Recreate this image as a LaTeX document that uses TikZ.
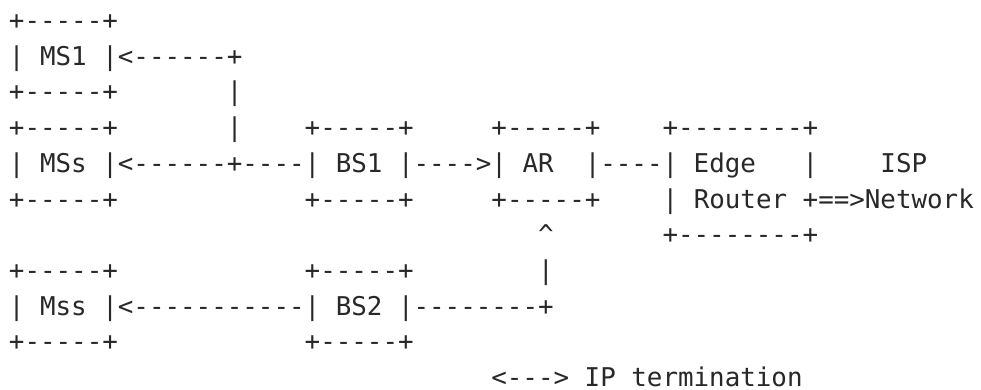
\documentclass[tikz,border=0pt]{standalone}
\usepackage{fontspec}
\newfontfamily\asciifont{DejaVu Sans Mono}
\definecolor{ink}{RGB}{40,40,40}
\begin{document}
\begin{tikzpicture}[x=1pt,y=1pt,
  row/.style={anchor=base west,inner sep=0pt,outer sep=0pt,text=ink,
    font=\asciifont\fontsize{25.85}{30}\selectfont}]
\useasboundingbox[fill=white] (0,0) rectangle (981,-389);
% column pitch 15.56pt, first column at 9pt; row pitch 35.74pt
\node[row] (r0)  at (9,-29.3)   {+-----+};
\node[row] (r1)  at (9,-65.04)  {|~MS1~|<------+};
\node[row] (r2)  at (9,-100.78) {+-----+~~~~~~~|};
\node[row] (r3)  at (9,-136.52) {+-----+~~~~~~~|~~~~+-----+~~~~~+-----+~~~~+--------+};
\node[row] (r4)  at (9,-172.26) {|~MSs~|<------+----|~BS1~|---->|~AR~~|----|~Edge~~~|~~~~ISP};
\node[row] (r5)  at (9,-208.00) {+-----+~~~~~~~~~~~~+-----+~~~~~+-----+~~~~|~Router~+==>Network};
\node[row] (r6)  at (538.04,-243.74) {\^{}~~~~~~~+--------+};
\node[row] (r7)  at (9,-279.48) {+-----+~~~~~~~~~~~~+-----+~~~~~~~~|};
\node[row] (r8)  at (9,-315.22) {|~Mss~|<-----------|~BS2~|--------+};
\node[row] (r9)  at (9,-350.96) {+-----+~~~~~~~~~~~~+-----+};
\node[row] (r10) at (491.36,-386.70) {<--->~IP~termination};
\end{tikzpicture}
\end{document}
